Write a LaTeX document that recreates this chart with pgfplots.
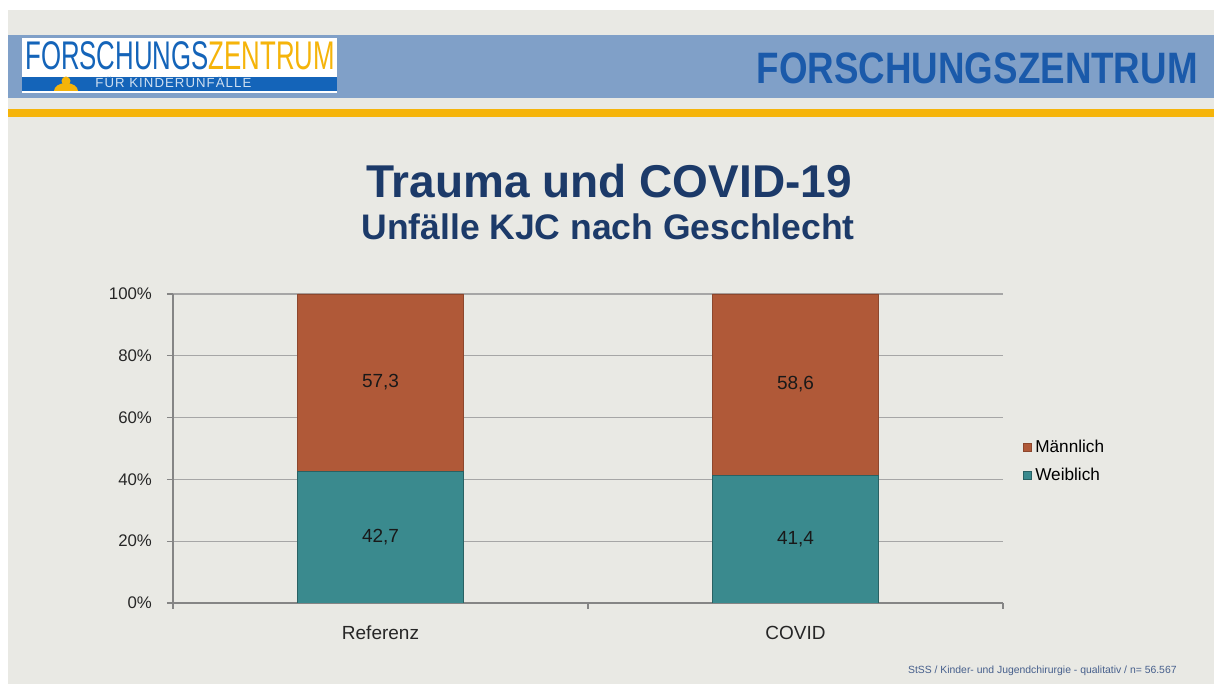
\documentclass[border=0pt]{standalone}
\usepackage{pgfplots}
\pgfplotsset{compat=1.18}
\usepackage{fontspec}
\setmainfont{Liberation Sans}

\definecolor{slidebg}{RGB}{233,233,228}
\definecolor{band}{RGB}{128,160,200}
\definecolor{gold}{RGB}{245,180,10}
\definecolor{headblue}{RGB}{27,90,170}
\definecolor{titleblue}{RGB}{28,58,105}
\definecolor{male}{RGB}{176,89,56}
\definecolor{female}{RGB}{58,138,142}
\definecolor{logoblue}{RGB}{20,100,185}
\definecolor{footblue}{RGB}{70,95,140}
\definecolor{gridgray}{RGB}{166,166,166}

\pgfplotstableread{
x  weiblich maennlich
0  42.7     57.3
1  41.4     58.6
}\geschlecht

% label positions: middle of each segment
\pgfplotstableread{
x  y      label
0  21.35  42,7
0  71.35  57,3
1  20.70  41,4
1  70.70  58,6
}\labels

\pgfplotsset{chartbox/.style={
  at={(86.5pt,40.5pt)}, anchor=south west,
  scale only axis, width=415pt, height=154.5pt,
  xmin=-0.5, xmax=1.5, ymin=0, ymax=100,
  enlargelimits=false}}

\begin{document}
\begin{tikzpicture}
% slide decoration in reference pixels (y upward), 1px = 0.5pt
\begin{scope}[x=0.5pt,y=0.5pt]
\fill[white] (0,0) rectangle (1214,684);
\useasboundingbox (0,0) rectangle (1214,684);
\fill[slidebg] (8,0) rectangle (1214,674);
\fill[band] (8,586) rectangle (1214,649);
\fill[gold] (8,567) rectangle (1214,575);

% logo
\fill[white] (22,591) rectangle (337,646);
\fill[logoblue] (22,593) rectangle (337,607);
\node[anchor=base west, inner sep=0, xscale=0.645] at (25,614)
  {\fontsize{20}{20}\selectfont\textcolor{logoblue}{FORSCHUNGS}\textcolor{gold}{ZENTRUM}};
\node[anchor=base west, inner sep=0] at (95,596)
  {\fontsize{6.6}{6.6}\selectfont\addfontfeature{LetterSpace=8}\textcolor{white!80!logoblue}{FÜR KINDERUNFÄLLE}};
\fill[gold] (66,603) circle (4.5);
\fill[gold] (54,593) arc (180:0:12 and 8) -- cycle;

\node[anchor=base east, inner sep=0, xscale=0.835] at (1198,600)
  {\fontsize{22}{22}\selectfont\bfseries\color{headblue}FORSCHUNGSZENTRUM};

\node[anchor=base, inner sep=0] at (609,486)
  {\fontsize{23}{23}\selectfont\bfseries\color{titleblue}Trauma und COVID-19};
\node[anchor=base, inner sep=0] at (608,444)
  {\fontsize{17.75}{17.75}\selectfont\bfseries\color{titleblue}Unfälle KJC nach Geschlecht};

\node[anchor=base east, inner sep=0] at (1177,10)
  {\fontsize{5.2}{5.2}\selectfont\color{footblue}StSS / Kinder- und Jugendchirurgie - qualitativ / n= 56.567};
\end{scope}

\begin{axis}[
  chartbox,
  ybar stacked, bar width=0.4,
  axis x line*=bottom, axis y line*=left,
  axis line style={draw=gridgray!80!black, line width=0.6pt},
  ymajorgrids, grid style={gridgray, line width=0.6pt},
  xtick={0,1}, xticklabels={Referenz,COVID},
  ytick={0,20,...,100},
  yticklabel={\pgfmathprintnumber{\tick}\%},
  /pgf/number format/assume math mode=true,
  tick align=outside,
  major tick length=3pt,
  xtick style={draw=none},
  ytick style={draw=gridgray!80!black, line width=0.6pt},
  extra x ticks={-0.5,0.5,1.5}, extra x tick labels={},
  extra x tick style={grid=none, major tick length=3pt,
    xtick style={draw=gridgray!80!black, line width=0.6pt}},
  x tick label style={font=\fontsize{9.5}{9.5}\selectfont, text=black!85, yshift=-5pt},
  y tick label style={font=\fontsize{8.4}{8.4}\selectfont, text=black!85, xshift=-4pt},
  legend style={at={(1.023,0.458)}, anchor=west, draw=none, fill=none,
    font=\fontsize{8.6}{8.6}\selectfont, row sep=2.2pt, inner sep=0pt,
    /tikz/every even column/.append style={column sep=2pt}},
  legend cell align=left,
  reverse legend,
  legend image code/.code={\fill[#1] (0pt,-2pt) rectangle (4pt,2pt);},
]
\addplot+[fill=female, draw=female!70!black, line width=0.4pt] table[x=x, y=weiblich] {\geschlecht};
\addlegendentry{Weiblich}
\addplot+[fill=male, draw=male!80!black, line width=0.4pt] table[x=x, y=maennlich] {\geschlecht};
\addlegendentry{Männlich}
\end{axis}

\begin{axis}[chartbox, hide axis]
\addplot[only marks, mark=none, point meta=explicit symbolic,
  nodes near coords, nodes near coords style={anchor=center,
    font=\fontsize{9.5}{9.5}\selectfont, text=black!90}]
  table[x=x, y=y, meta=label] {\labels};
\end{axis}
\end{tikzpicture}
\end{document}
